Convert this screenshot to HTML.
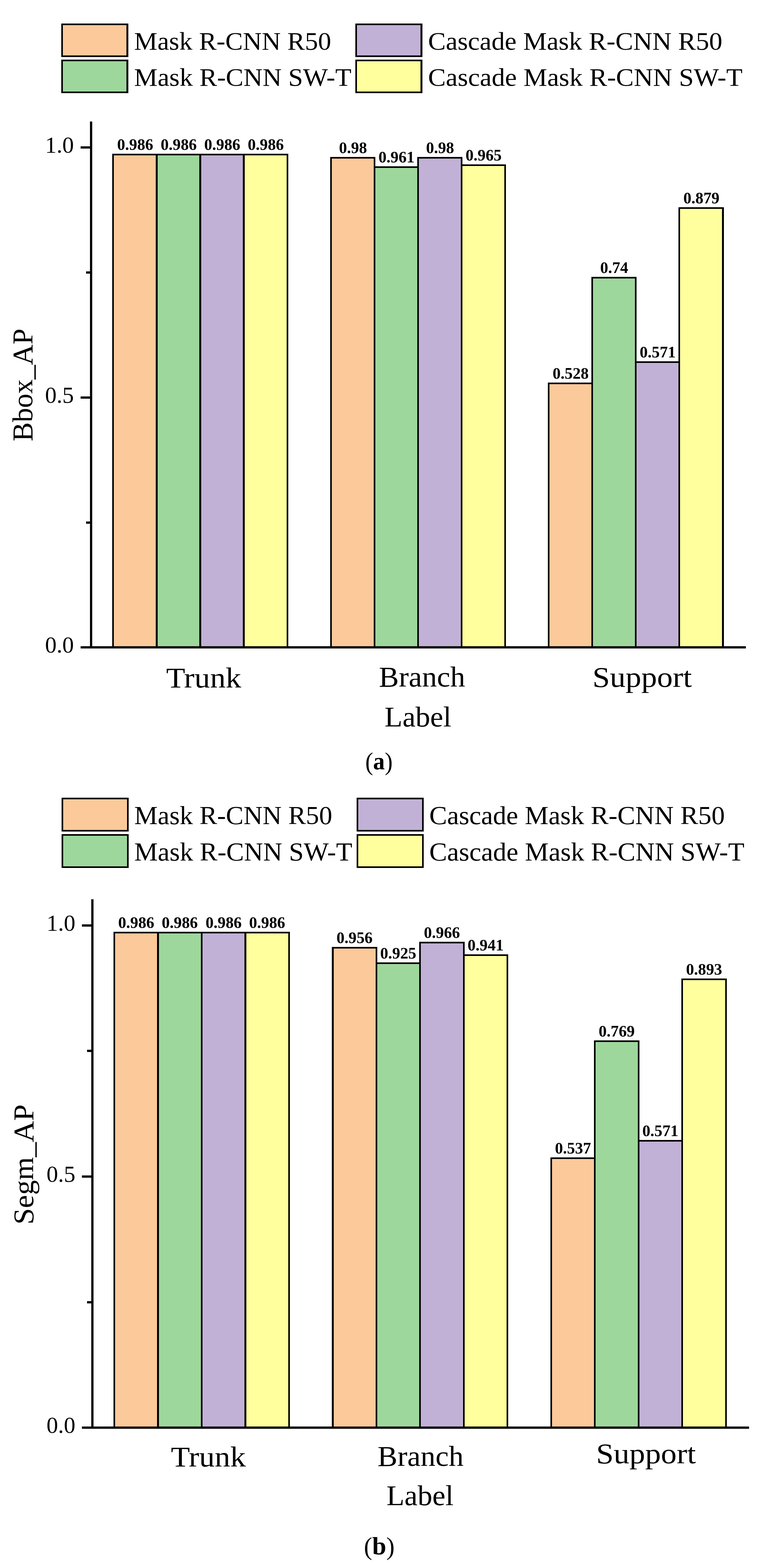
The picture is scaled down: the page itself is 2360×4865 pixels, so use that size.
<!DOCTYPE html>
<html lang="en">
<head>
<meta charset="utf-8">
<title>Bbox_AP and Segm_AP by label</title>
<style>
html,body{margin:0;padding:0;background:#fff;}
body{width:2360px;height:4865px;overflow:hidden;}
svg{display:block;}
rect{shape-rendering:crispEdges;}
text{font-family:"Liberation Serif","DejaVu Serif",serif;fill:#000;}
text.b{font-weight:bold;}
</style>
</head>
<body>
<svg width="2360" height="4865" viewBox="0 0 2360 4865">
<rect x="0" y="0" width="2360" height="4865" fill="#fff"/>
<g id="chart-a">
<g class="legend">
<rect x="190" y="73" width="208" height="104" fill="#000"/>
<rect x="195" y="78" width="197" height="94" fill="#FCC99A"/>
<text x="415.75" y="154" font-size="79" textLength="611.16" lengthAdjust="spacingAndGlyphs">Mask R-CNN R50</text>
<rect x="190" y="185" width="208" height="104" fill="#000"/>
<rect x="195" y="190" width="197" height="94" fill="#9ED79C"/>
<text x="415.75" y="266" font-size="79" textLength="674" lengthAdjust="spacingAndGlyphs">Mask R-CNN SW-T</text>
<rect x="1102" y="73" width="208" height="104" fill="#000"/>
<rect x="1107" y="78" width="197" height="94" fill="#C2B1D6"/>
<text x="1327.5" y="154" font-size="79" textLength="912.75" lengthAdjust="spacingAndGlyphs">Cascade Mask R-CNN R50</text>
<rect x="1102" y="185" width="208" height="104" fill="#000"/>
<rect x="1107" y="190" width="197" height="94" fill="#FFFF9E"/>
<text x="1327.5" y="266" font-size="79" textLength="975.31" lengthAdjust="spacingAndGlyphs">Cascade Mask R-CNN SW-T</text>
</g>
<g class="bars">
<rect x="353" y="482" width="130" height="1523" fill="#FCC99A"/>
<rect x="489" y="482" width="129" height="1523" fill="#9ED79C"/>
<rect x="624" y="482" width="129" height="1523" fill="#C2B1D6"/>
<rect x="759" y="482" width="130" height="1523" fill="#FFFF9E"/>
<rect x="1029" y="492" width="130" height="1513" fill="#FCC99A"/>
<rect x="1164" y="521" width="130" height="1484" fill="#9ED79C"/>
<rect x="1299" y="492" width="130" height="1513" fill="#C2B1D6"/>
<rect x="1434" y="515" width="130" height="1490" fill="#FFFF9E"/>
<rect x="1704" y="1192" width="130" height="813" fill="#FCC99A"/>
<rect x="1839" y="864" width="130" height="1141" fill="#9ED79C"/>
<rect x="1974" y="1126" width="130" height="879" fill="#C2B1D6"/>
<rect x="2109" y="648" width="130" height="1357" fill="#FFFF9E"/>
<rect x="348" y="477" width="141" height="5" fill="#000"/>
<rect x="483" y="477" width="141" height="5" fill="#000"/>
<rect x="618" y="477" width="141" height="5" fill="#000"/>
<rect x="753" y="477" width="141" height="5" fill="#000"/>
<rect x="348" y="477" width="5" height="1528" fill="#000"/>
<rect x="483" y="477" width="6" height="1528" fill="#000"/>
<rect x="618" y="477" width="6" height="1528" fill="#000"/>
<rect x="753" y="477" width="6" height="1528" fill="#000"/>
<rect x="889" y="477" width="5" height="1528" fill="#000"/>
<rect x="1024" y="487" width="140" height="5" fill="#000"/>
<rect x="1159" y="516" width="140" height="5" fill="#000"/>
<rect x="1294" y="487" width="140" height="5" fill="#000"/>
<rect x="1429" y="510" width="140" height="5" fill="#000"/>
<rect x="1024" y="487" width="5" height="1518" fill="#000"/>
<rect x="1159" y="487" width="5" height="1518" fill="#000"/>
<rect x="1294" y="487" width="5" height="1518" fill="#000"/>
<rect x="1429" y="487" width="5" height="1518" fill="#000"/>
<rect x="1564" y="510" width="5" height="1495" fill="#000"/>
<rect x="1699" y="1187" width="140" height="5" fill="#000"/>
<rect x="1834" y="859" width="140" height="5" fill="#000"/>
<rect x="1969" y="1121" width="140" height="5" fill="#000"/>
<rect x="2104" y="643" width="141" height="5" fill="#000"/>
<rect x="1699" y="1187" width="5" height="818" fill="#000"/>
<rect x="1834" y="859" width="5" height="1146" fill="#000"/>
<rect x="1969" y="859" width="5" height="1146" fill="#000"/>
<rect x="2104" y="643" width="5" height="1362" fill="#000"/>
<rect x="2239" y="643" width="6" height="1362" fill="#000"/>
</g>
<g class="axes">
<rect x="279" y="377" width="7" height="1635" fill="#000"/>
<rect x="250" y="2005" width="2063" height="7" fill="#000"/>
<rect x="250" y="454" width="29" height="7" fill="#000"/>
<rect x="250" y="1230" width="29" height="7" fill="#000"/>
<rect x="267" y="842" width="12" height="7" fill="#000"/>
<rect x="267" y="1618" width="12" height="7" fill="#000"/>
<text x="229" y="474" font-size="71.5" text-anchor="end">1.0</text>
<text x="229" y="1250" font-size="71.5" text-anchor="end">0.5</text>
<text x="229" y="2025" font-size="71.5" text-anchor="end">0.0</text>
</g>
<g class="values">
<text x="419.2" y="465" font-size="50.8" class="b" text-anchor="middle" textLength="112.01" lengthAdjust="spacingAndGlyphs">0.986</text>
<text x="554.2" y="465" font-size="50.8" class="b" text-anchor="middle" textLength="112.01" lengthAdjust="spacingAndGlyphs">0.986</text>
<text x="689.2" y="465" font-size="50.8" class="b" text-anchor="middle" textLength="112.01" lengthAdjust="spacingAndGlyphs">0.986</text>
<text x="824.2" y="465" font-size="50.8" class="b" text-anchor="middle" textLength="112.01" lengthAdjust="spacingAndGlyphs">0.986</text>
<text x="1094.7" y="475" font-size="50.8" class="b" text-anchor="middle" textLength="87.12" lengthAdjust="spacingAndGlyphs">0.98</text>
<text x="1229.7" y="504" font-size="50.8" class="b" text-anchor="middle" textLength="112.01" lengthAdjust="spacingAndGlyphs">0.961</text>
<text x="1364.7" y="475" font-size="50.8" class="b" text-anchor="middle" textLength="87.12" lengthAdjust="spacingAndGlyphs">0.98</text>
<text x="1499.7" y="498" font-size="50.8" class="b" text-anchor="middle" textLength="112.01" lengthAdjust="spacingAndGlyphs">0.965</text>
<text x="1769.7" y="1175" font-size="50.8" class="b" text-anchor="middle" textLength="112.01" lengthAdjust="spacingAndGlyphs">0.528</text>
<text x="1904.7" y="847" font-size="50.8" class="b" text-anchor="middle" textLength="87.12" lengthAdjust="spacingAndGlyphs">0.74</text>
<text x="2039.7" y="1109" font-size="50.8" class="b" text-anchor="middle" textLength="112.01" lengthAdjust="spacingAndGlyphs">0.571</text>
<text x="2175.2" y="631" font-size="50.8" class="b" text-anchor="middle" textLength="112.01" lengthAdjust="spacingAndGlyphs">0.879</text>
</g>
<g class="labels">
<text x="515.15" y="2133" font-size="88" textLength="232.96" lengthAdjust="spacingAndGlyphs">Trunk</text>
<text x="1175" y="2130" font-size="88" textLength="267.48" lengthAdjust="spacingAndGlyphs">Branch</text>
<text x="1837.15" y="2131" font-size="88" textLength="308.54" lengthAdjust="spacingAndGlyphs">Support</text>
<text x="1192.5" y="2254" font-size="88" textLength="207.33" lengthAdjust="spacingAndGlyphs">Label</text>
<text x="99.85" y="1369.2" font-size="88" textLength="349.78" lengthAdjust="spacingAndGlyphs" transform="rotate(-90 99.85 1369.2)">Bbox_AP</text>
<text x="1132.65" y="2388.51" font-size="78.2" textLength="85.12" lengthAdjust="spacingAndGlyphs">(<tspan font-weight="bold" font-size="77.1" dy="-1.1">a</tspan><tspan dy="1.1">)</tspan></text>
</g>
</g>
<g id="chart-b">
<g class="legend">
<rect x="191" y="2475" width="208" height="105" fill="#000"/>
<rect x="196" y="2480" width="198" height="95" fill="#FCC99A"/>
<text x="416.25" y="2557" font-size="80" textLength="614.27" lengthAdjust="spacingAndGlyphs">Mask R-CNN R50</text>
<rect x="191" y="2588" width="208" height="105" fill="#000"/>
<rect x="196" y="2593" width="198" height="95" fill="#9ED79C"/>
<text x="416.25" y="2670" font-size="80" textLength="676.13" lengthAdjust="spacingAndGlyphs">Mask R-CNN SW-T</text>
<rect x="1106" y="2475" width="208" height="105" fill="#000"/>
<rect x="1111" y="2480" width="198" height="95" fill="#C2B1D6"/>
<text x="1331.3" y="2557" font-size="80" textLength="916.53" lengthAdjust="spacingAndGlyphs">Cascade Mask R-CNN R50</text>
<rect x="1106" y="2588" width="208" height="105" fill="#000"/>
<rect x="1111" y="2593" width="198" height="95" fill="#FFFF9E"/>
<text x="1331.3" y="2670" font-size="80" textLength="977.31" lengthAdjust="spacingAndGlyphs">Cascade Mask R-CNN SW-T</text>
</g>
<g class="bars">
<rect x="357" y="2896" width="130" height="1530" fill="#FCC99A"/>
<rect x="493" y="2896" width="130" height="1530" fill="#9ED79C"/>
<rect x="628" y="2896" width="130" height="1530" fill="#C2B1D6"/>
<rect x="764" y="2896" width="130" height="1530" fill="#FFFF9E"/>
<rect x="1035" y="2943" width="130" height="1483" fill="#FCC99A"/>
<rect x="1170" y="2991" width="130" height="1435" fill="#9ED79C"/>
<rect x="1305" y="2927" width="131" height="1499" fill="#C2B1D6"/>
<rect x="1441" y="2966" width="130" height="1460" fill="#FFFF9E"/>
<rect x="1712" y="3596" width="130" height="830" fill="#FCC99A"/>
<rect x="1847" y="3233" width="131" height="1193" fill="#9ED79C"/>
<rect x="1983" y="3542" width="130" height="884" fill="#C2B1D6"/>
<rect x="2118" y="3041" width="131" height="1385" fill="#FFFF9E"/>
<rect x="352" y="2891" width="141" height="5" fill="#000"/>
<rect x="487" y="2891" width="141" height="5" fill="#000"/>
<rect x="623" y="2891" width="141" height="5" fill="#000"/>
<rect x="758" y="2891" width="141" height="5" fill="#000"/>
<rect x="352" y="2891" width="5" height="1535" fill="#000"/>
<rect x="487" y="2891" width="6" height="1535" fill="#000"/>
<rect x="623" y="2891" width="5" height="1535" fill="#000"/>
<rect x="758" y="2891" width="6" height="1535" fill="#000"/>
<rect x="894" y="2891" width="5" height="1535" fill="#000"/>
<rect x="1029" y="2938" width="141" height="5" fill="#000"/>
<rect x="1165" y="2986" width="140" height="5" fill="#000"/>
<rect x="1300" y="2922" width="141" height="5" fill="#000"/>
<rect x="1436" y="2961" width="140" height="5" fill="#000"/>
<rect x="1029" y="2938" width="6" height="1488" fill="#000"/>
<rect x="1165" y="2938" width="5" height="1488" fill="#000"/>
<rect x="1300" y="2922" width="5" height="1504" fill="#000"/>
<rect x="1436" y="2922" width="5" height="1504" fill="#000"/>
<rect x="1571" y="2961" width="5" height="1465" fill="#000"/>
<rect x="1707" y="3591" width="140" height="5" fill="#000"/>
<rect x="1842" y="3228" width="141" height="5" fill="#000"/>
<rect x="1978" y="3537" width="140" height="5" fill="#000"/>
<rect x="2113" y="3036" width="141" height="5" fill="#000"/>
<rect x="1707" y="3591" width="5" height="835" fill="#000"/>
<rect x="1842" y="3228" width="5" height="1198" fill="#000"/>
<rect x="1978" y="3228" width="5" height="1198" fill="#000"/>
<rect x="2113" y="3036" width="5" height="1390" fill="#000"/>
<rect x="2249" y="3036" width="5" height="1390" fill="#000"/>
</g>
<g class="axes">
<rect x="283" y="2790" width="7" height="1643" fill="#000"/>
<rect x="254" y="4426" width="2069" height="7" fill="#000"/>
<rect x="254" y="2868" width="29" height="7" fill="#000"/>
<rect x="254" y="3647" width="29" height="7" fill="#000"/>
<rect x="270" y="3257" width="13" height="7" fill="#000"/>
<rect x="270" y="4037" width="13" height="7" fill="#000"/>
<text x="233.7" y="2888" font-size="71.5" text-anchor="end">1.0</text>
<text x="233.7" y="3667" font-size="71.5" text-anchor="end">0.5</text>
<text x="233.7" y="4446" font-size="71.5" text-anchor="end">0.0</text>
</g>
<g class="values">
<text x="422.5" y="2879" font-size="50.8" class="b" text-anchor="middle" textLength="112.01" lengthAdjust="spacingAndGlyphs">0.986</text>
<text x="557.5" y="2879" font-size="50.8" class="b" text-anchor="middle" textLength="112.01" lengthAdjust="spacingAndGlyphs">0.986</text>
<text x="693.5" y="2879" font-size="50.8" class="b" text-anchor="middle" textLength="112.01" lengthAdjust="spacingAndGlyphs">0.986</text>
<text x="828.5" y="2879" font-size="50.8" class="b" text-anchor="middle" textLength="112.01" lengthAdjust="spacingAndGlyphs">0.986</text>
<text x="1099.5" y="2926" font-size="50.8" class="b" text-anchor="middle" textLength="112.01" lengthAdjust="spacingAndGlyphs">0.956</text>
<text x="1235" y="2974" font-size="50.8" class="b" text-anchor="middle" textLength="112.01" lengthAdjust="spacingAndGlyphs">0.925</text>
<text x="1370.5" y="2910" font-size="50.8" class="b" text-anchor="middle" textLength="112.01" lengthAdjust="spacingAndGlyphs">0.966</text>
<text x="1506" y="2949" font-size="50.8" class="b" text-anchor="middle" textLength="112.01" lengthAdjust="spacingAndGlyphs">0.941</text>
<text x="1777" y="3579" font-size="50.8" class="b" text-anchor="middle" textLength="112.01" lengthAdjust="spacingAndGlyphs">0.537</text>
<text x="1912.5" y="3216" font-size="50.8" class="b" text-anchor="middle" textLength="112.01" lengthAdjust="spacingAndGlyphs">0.769</text>
<text x="2048" y="3525" font-size="50.8" class="b" text-anchor="middle" textLength="112.01" lengthAdjust="spacingAndGlyphs">0.571</text>
<text x="2183.5" y="3024" font-size="50.8" class="b" text-anchor="middle" textLength="112.01" lengthAdjust="spacingAndGlyphs">0.893</text>
</g>
<g class="labels">
<text x="529.9" y="4550" font-size="88" textLength="232.38" lengthAdjust="spacingAndGlyphs">Trunk</text>
<text x="1170.85" y="4548" font-size="88" textLength="266.77" lengthAdjust="spacingAndGlyphs">Branch</text>
<text x="1848.65" y="4540" font-size="88" textLength="309.47" lengthAdjust="spacingAndGlyphs">Support</text>
<text x="1198.5" y="4670" font-size="88" textLength="208.15" lengthAdjust="spacingAndGlyphs">Label</text>
<text x="103.45" y="3799.55" font-size="88" textLength="372.98" lengthAdjust="spacingAndGlyphs" transform="rotate(-90 103.45 3799.55)">Segm_AP</text>
<text x="1128.5" y="4824.35" font-size="77.6" textLength="95.24" lengthAdjust="spacingAndGlyphs">(<tspan font-weight="bold" font-size="78.4" dy="-0.9">b</tspan><tspan dy="0.9">)</tspan></text>
</g>
</g>
</svg>
</body>
</html>
